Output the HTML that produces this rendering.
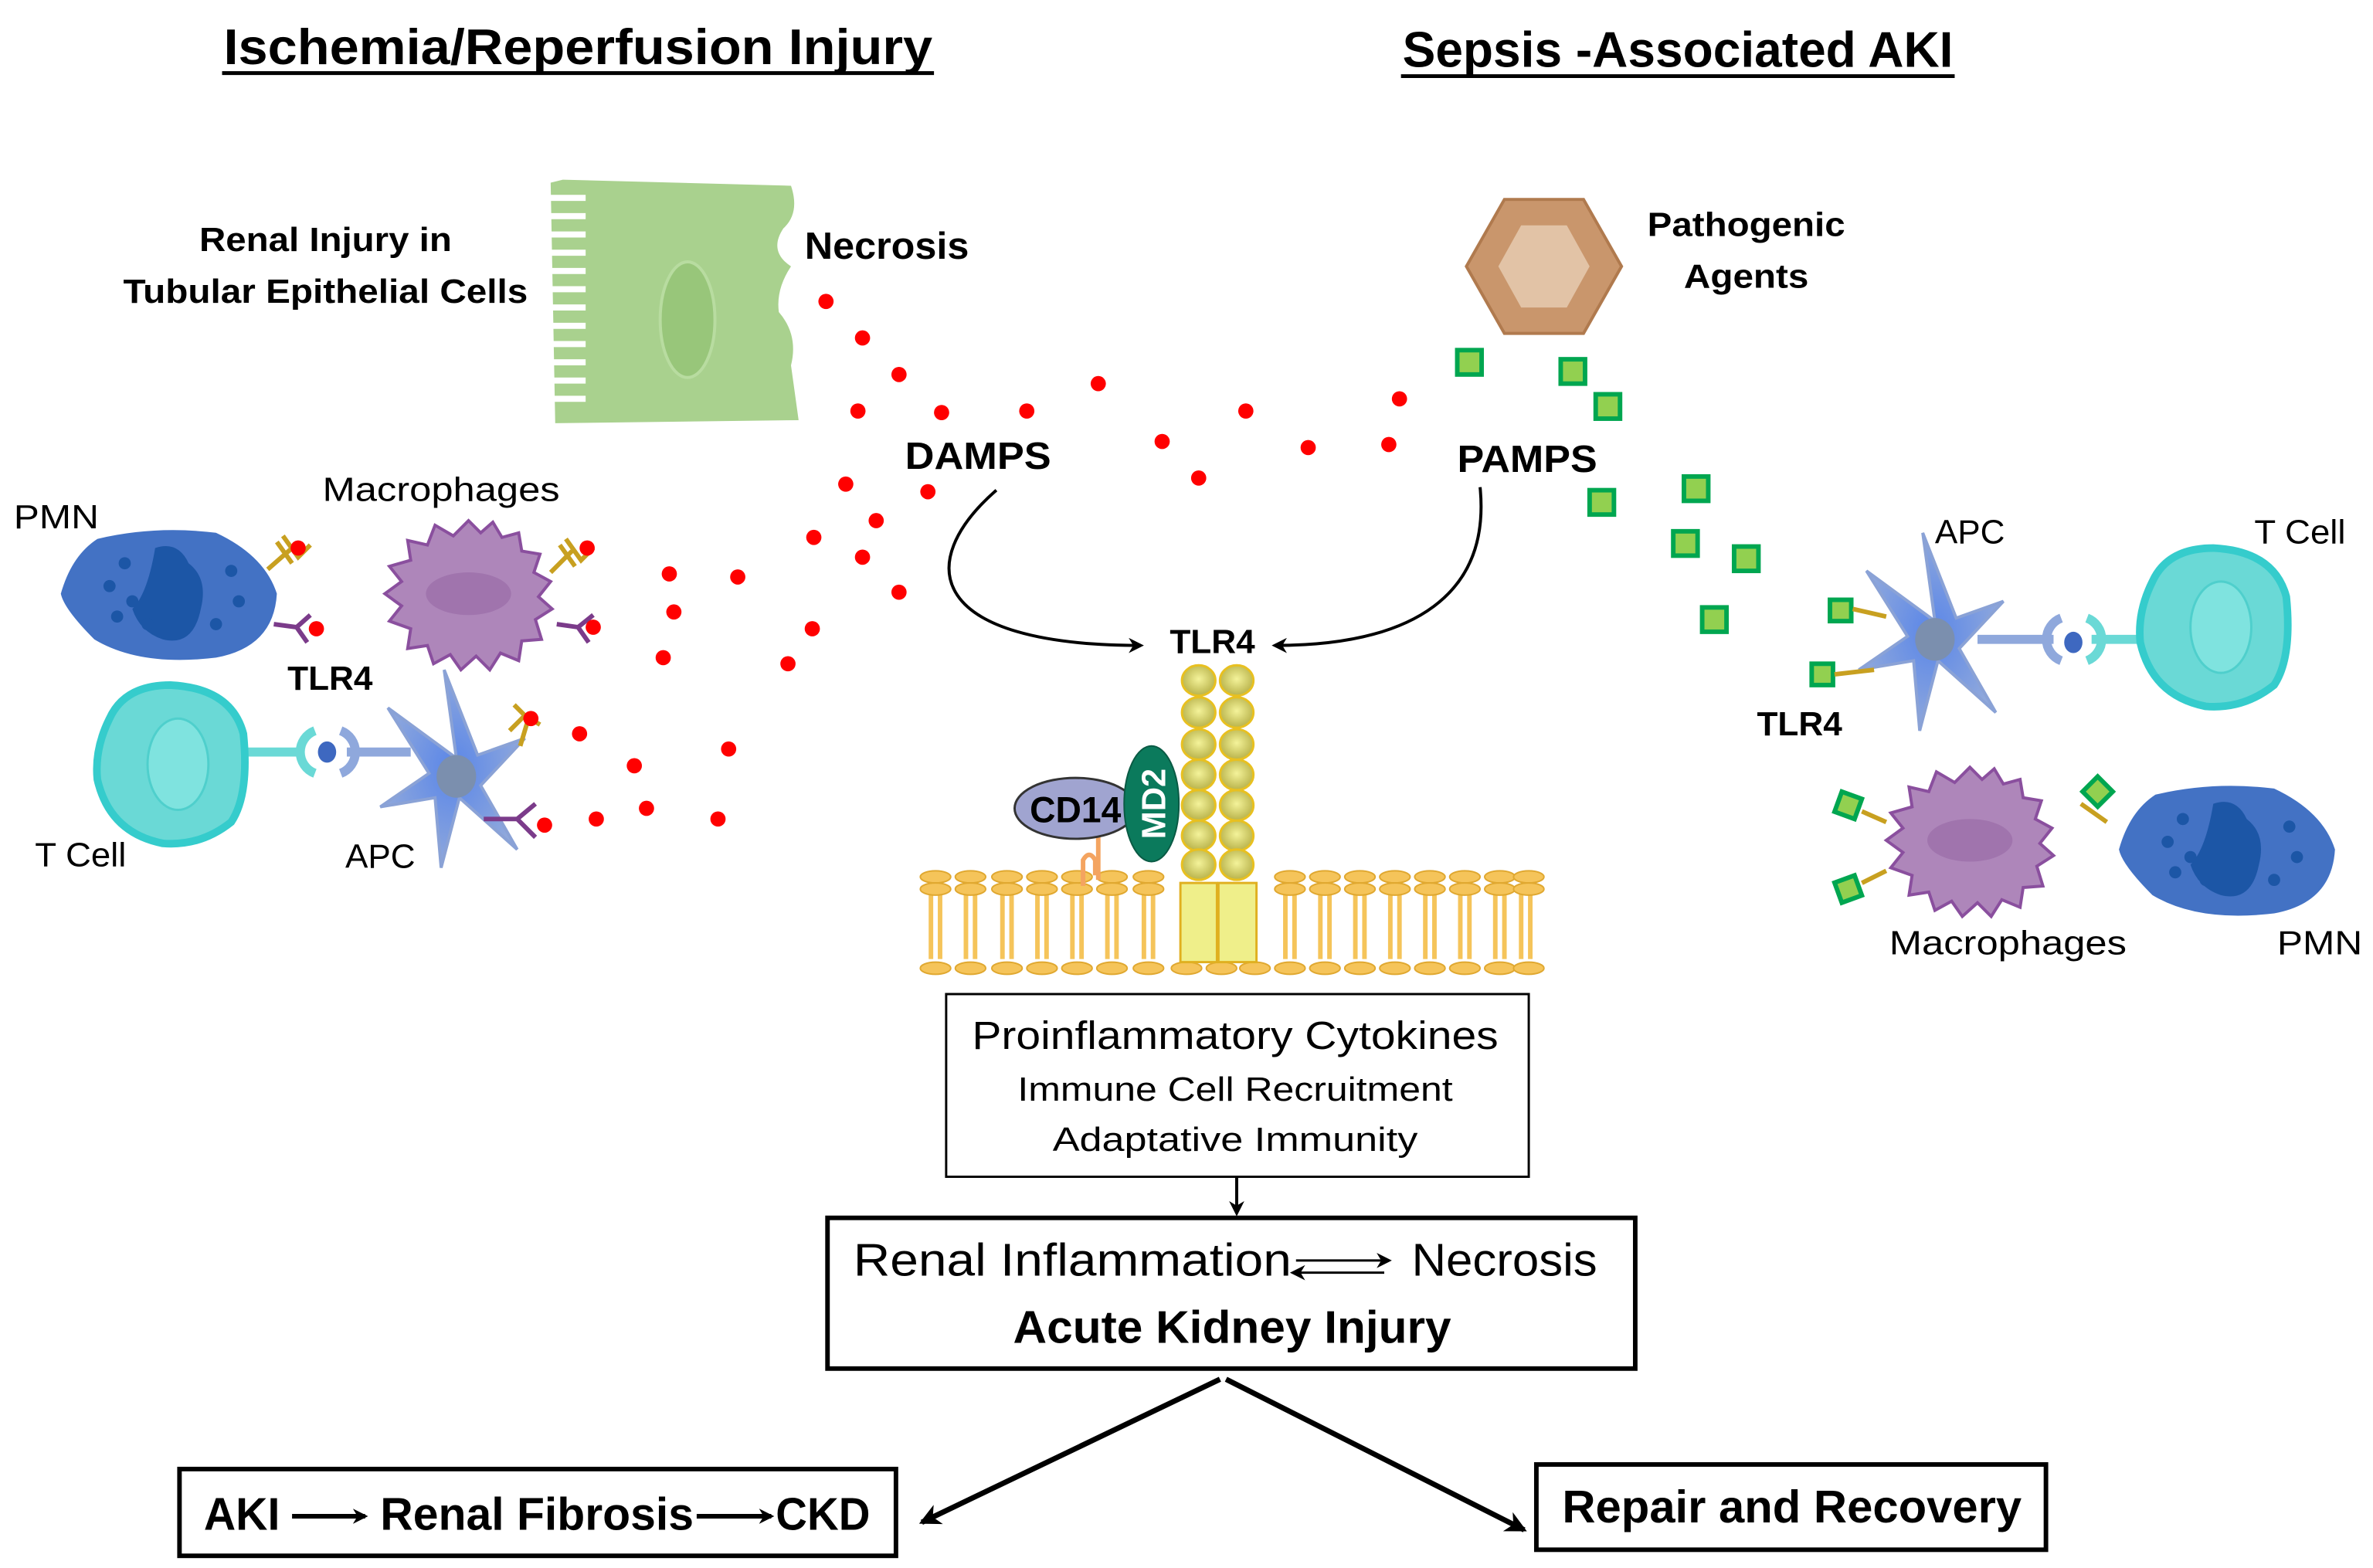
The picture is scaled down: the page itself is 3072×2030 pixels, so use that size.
<!DOCTYPE html>
<html><head><meta charset="utf-8"><style>
html,body{margin:0;padding:0;background:#fff;}
svg{display:block;}
text{font-family:"Liberation Sans",sans-serif;}
</style></head><body>
<svg width="3072" height="2030" viewBox="0 0 1560 1030" preserveAspectRatio="none" xmlns="http://www.w3.org/2000/svg">
<defs>
<marker id="ah" markerWidth="10" markerHeight="10" refX="8" refY="5" orient="auto" markerUnits="userSpaceOnUse"><path d="M0,0 L10,5 L0,10 L3,5 Z" fill="#000"/></marker>
<marker id="ah2" markerWidth="14" markerHeight="14" refX="12" refY="7" orient="auto" markerUnits="userSpaceOnUse"><path d="M0,0 L14,7 L0,14 L4,7 Z" fill="#000"/></marker>
<radialGradient id="bead" cx="50%" cy="45%" r="55%"><stop offset="0" stop-color="#f4f39a"/><stop offset="1" stop-color="#b8b24a"/></radialGradient>
<radialGradient id="apcg" cx="50%" cy="50%" r="50%"><stop offset="0" stop-color="#5a86e8"/><stop offset="1" stop-color="#8fa8dc"/></radialGradient>
<g id="tcell"><path d="M-40,-30 Q-30,-52 0,-52 Q40,-50 48,-20 Q52,20 40,38 Q20,54 -5,52 Q-40,45 -48,10 Q-50,-10 -40,-30Z" fill="#6ad9d6" stroke="#35cccc" stroke-width="5"/><ellipse cx="5" cy="0" rx="20" ry="30" fill="#7fe3df" stroke="#4fcfcc" stroke-width="1.5"/></g>
<g id="pmn"><path d="M-48,-36 Q-10,-45 30,-40 Q62,-25 70,0 Q68,35 30,42 Q-20,48 -50,30 Q-70,10 -72,0 Q-65,-25 -48,-36Z" fill="#4372c4"/><path d="M-10,-30 Q5,-35 12,-20 Q25,-10 20,10 Q15,35 -5,30 Q-20,25 -25,10 Q-15,0 -10,-30Z" fill="#1c56a6"/><g fill="#1c56a6"><circle cx="-40" cy="-5" r="4"/><circle cx="-30" cy="-20" r="4"/><circle cx="-25" cy="5" r="4"/><circle cx="-35" cy="15" r="4"/><circle cx="40" cy="-15" r="4"/><circle cx="45" cy="5" r="4"/><circle cx="-15" cy="20" r="4"/><circle cx="30" cy="20" r="4"/></g></g>
<g id="mac"><path d="M0,-48 L8,-40 L16,-47 L22,-37 L33,-40 L35,-28 L47,-26 L43,-14 L54,-8 L46,2 L55,10 L44,17 L48,30 L35,31 L33,44 L21,39 L14,50 L5,41 L-5,50 L-12,40 L-23,46 L-27,34 L-40,36 L-38,23 L-52,18 L-44,8 L-55,0 L-44,-8 L-52,-18 L-38,-22 L-40,-35 L-27,-32 L-22,-45 L-10,-38 Z" fill="#ae86ba" stroke="#8a4f9e" stroke-width="2"/><ellipse cx="0" cy="0" rx="28" ry="14" fill="#9a6ca8" opacity="0.7"/></g>
<g id="apc"><path d="M0,-12 L-8,-70 L14,-14 L45,-25 L16,6 L40,48 L2,14 L-10,60 L-14,14 L-50,20 L-18,-2 L-45,-45 Z" fill="url(#apcg)" stroke="#8aa2d6" stroke-width="2"/><ellipse cx="0" cy="0" rx="13" ry="14" fill="#7b8fae"/></g>
</defs>

<!-- titles -->
<text x="380" y="42" text-anchor="middle" font-size="33" font-weight="bold" textLength="466" lengthAdjust="spacingAndGlyphs">Ischemia/Reperfusion Injury</text>
<line x1="146" y1="48" x2="614" y2="48" stroke="#000" stroke-width="2.5"/>
<text x="1103" y="44" text-anchor="middle" font-size="33" font-weight="bold" textLength="362" lengthAdjust="spacingAndGlyphs">Sepsis -Associated AKI</text>
<line x1="921" y1="50" x2="1285" y2="50" stroke="#000" stroke-width="2.5"/>

<!-- epithelial cell -->
<path d="M370,118 L520,122 Q526,140 515,150 Q505,165 520,175 Q510,190 512,205 Q525,220 520,240 L525,276 L365,278 L362,120Z" fill="#a9d18e"/>
<g stroke="#fff" stroke-width="4">
<line x1="360" y1="130" x2="385" y2="130"/><line x1="360" y1="142" x2="385" y2="142"/><line x1="360" y1="154" x2="385" y2="154"/><line x1="360" y1="166" x2="385" y2="166"/><line x1="360" y1="178" x2="385" y2="178"/><line x1="360" y1="190" x2="385" y2="190"/><line x1="360" y1="202" x2="385" y2="202"/><line x1="360" y1="214" x2="385" y2="214"/><line x1="360" y1="226" x2="385" y2="226"/><line x1="360" y1="238" x2="385" y2="238"/><line x1="360" y1="250" x2="385" y2="250"/><line x1="360" y1="262" x2="385" y2="262"/></g>
<ellipse cx="452" cy="210" rx="18" ry="38" fill="#98c67a" stroke="#b8dca0" stroke-width="2"/>
<text x="214" y="165" text-anchor="middle" font-size="22" font-weight="bold" textLength="166" lengthAdjust="spacingAndGlyphs">Renal Injury in</text>
<text x="214" y="199" text-anchor="middle" font-size="22" font-weight="bold" textLength="266" lengthAdjust="spacingAndGlyphs">Tubular Epithelial Cells</text>
<text x="583" y="170" text-anchor="middle" font-size="25" font-weight="bold" textLength="108" lengthAdjust="spacingAndGlyphs">Necrosis</text>

<!-- hexagon -->
<polygon points="989,131 1041,131 1066,175 1041,219 989,219 964,175" fill="#c9966c" stroke="#b07a4e" stroke-width="2"/>
<polygon points="1000,148 1030,148 1045,175 1030,202 1000,202 985,175" fill="#e2c3a6"/>
<text x="1148" y="155" text-anchor="middle" font-size="22" font-weight="bold" textLength="130" lengthAdjust="spacingAndGlyphs">Pathogenic</text>
<text x="1148" y="189" text-anchor="middle" font-size="22" font-weight="bold" textLength="82" lengthAdjust="spacingAndGlyphs">Agents</text>

<!-- red dots -->
<g fill="#f00">
<circle cx="543" cy="198" r="5"/><circle cx="567" cy="222" r="5"/><circle cx="591" cy="246" r="5"/><circle cx="564" cy="270" r="5"/><circle cx="619" cy="271" r="5"/><circle cx="675" cy="270" r="5"/><circle cx="722" cy="252" r="5"/><circle cx="819" cy="270" r="5"/><circle cx="920" cy="262" r="5"/><circle cx="764" cy="290" r="5"/><circle cx="860" cy="294" r="5"/><circle cx="913" cy="292" r="5"/><circle cx="788" cy="314" r="5"/><circle cx="556" cy="318" r="5"/><circle cx="610" cy="323" r="5"/><circle cx="576" cy="342" r="5"/><circle cx="535" cy="353" r="5"/><circle cx="567" cy="366" r="5"/><circle cx="591" cy="389" r="5"/><circle cx="440" cy="377" r="5"/><circle cx="485" cy="379" r="5"/><circle cx="443" cy="402" r="5"/><circle cx="534" cy="413" r="5"/><circle cx="436" cy="432" r="5"/><circle cx="518" cy="436" r="5"/><circle cx="381" cy="482" r="5"/><circle cx="417" cy="503" r="5"/><circle cx="479" cy="492" r="5"/><circle cx="392" cy="538" r="5"/><circle cx="425" cy="531" r="5"/><circle cx="472" cy="538" r="5"/>
</g>
<!-- green squares -->
<g fill="#92d050" stroke="#00a650" stroke-width="3">
<rect x="958" y="230" width="16" height="16"/><rect x="1026" y="236" width="16" height="16"/><rect x="1049" y="259" width="16" height="16"/><rect x="1107" y="313" width="16" height="16"/><rect x="1045" y="322" width="16" height="16"/><rect x="1100" y="349" width="16" height="16"/><rect x="1140" y="359" width="16" height="16"/><rect x="1119" y="399" width="16" height="16"/>
</g>

<text x="643" y="308" text-anchor="middle" font-size="25" font-weight="bold" textLength="96" lengthAdjust="spacingAndGlyphs">DAMPS</text>
<text x="1004" y="310" text-anchor="middle" font-size="25" font-weight="bold" textLength="92" lengthAdjust="spacingAndGlyphs">PAMPS</text>
<path d="M655,322 C600,370 610,424 750,424" fill="none" stroke="#000" stroke-width="2" marker-end="url(#ah)"/>
<path d="M973,320 C980,390 930,424 838,424" fill="none" stroke="#000" stroke-width="2" marker-end="url(#ah)"/>
<text x="797" y="429" text-anchor="middle" font-size="22" font-weight="bold" textLength="56" lengthAdjust="spacingAndGlyphs">TLR4</text>

<!-- membrane -->
<g stroke="#f5c45a" stroke-width="3">
<path d="M612,585 V630 M618,585 V630 M635,585 V630 M641,585 V630 M659,585 V630 M665,585 V630 M682,585 V630 M688,585 V630 M705,585 V630 M711,585 V630 M728,585 V630 M734,585 V630 M752,585 V630 M758,585 V630 M845,585 V630 M851,585 V630 M868,585 V630 M874,585 V630 M891,585 V630 M897,585 V630 M914,585 V630 M920,585 V630 M937,585 V630 M943,585 V630 M960,585 V630 M966,585 V630 M983,585 V630 M989,585 V630 M1000,585 V630 M1006,585 V630"/>
</g>
<g fill="#f5c45a" stroke="#e0a830" stroke-width="1">
<ellipse cx="615" cy="576" rx="10" ry="4"/><ellipse cx="638" cy="576" rx="10" ry="4"/><ellipse cx="662" cy="576" rx="10" ry="4"/><ellipse cx="685" cy="576" rx="10" ry="4"/><ellipse cx="708" cy="576" rx="10" ry="4"/><ellipse cx="731" cy="576" rx="10" ry="4"/><ellipse cx="755" cy="576" rx="10" ry="4"/><ellipse cx="848" cy="576" rx="10" ry="4"/><ellipse cx="871" cy="576" rx="10" ry="4"/><ellipse cx="894" cy="576" rx="10" ry="4"/><ellipse cx="917" cy="576" rx="10" ry="4"/><ellipse cx="940" cy="576" rx="10" ry="4"/><ellipse cx="963" cy="576" rx="10" ry="4"/><ellipse cx="986" cy="576" rx="10" ry="4"/><ellipse cx="1005" cy="576" rx="10" ry="4"/>
<ellipse cx="615" cy="584" rx="10" ry="4"/><ellipse cx="638" cy="584" rx="10" ry="4"/><ellipse cx="662" cy="584" rx="10" ry="4"/><ellipse cx="685" cy="584" rx="10" ry="4"/><ellipse cx="708" cy="584" rx="10" ry="4"/><ellipse cx="731" cy="584" rx="10" ry="4"/><ellipse cx="755" cy="584" rx="10" ry="4"/><ellipse cx="848" cy="584" rx="10" ry="4"/><ellipse cx="871" cy="584" rx="10" ry="4"/><ellipse cx="894" cy="584" rx="10" ry="4"/><ellipse cx="917" cy="584" rx="10" ry="4"/><ellipse cx="940" cy="584" rx="10" ry="4"/><ellipse cx="963" cy="584" rx="10" ry="4"/><ellipse cx="986" cy="584" rx="10" ry="4"/><ellipse cx="1005" cy="584" rx="10" ry="4"/>
<ellipse cx="615" cy="636" rx="10" ry="4"/><ellipse cx="638" cy="636" rx="10" ry="4"/><ellipse cx="662" cy="636" rx="10" ry="4"/><ellipse cx="685" cy="636" rx="10" ry="4"/><ellipse cx="708" cy="636" rx="10" ry="4"/><ellipse cx="731" cy="636" rx="10" ry="4"/><ellipse cx="755" cy="636" rx="10" ry="4"/><ellipse cx="780" cy="636" rx="10" ry="4"/><ellipse cx="803" cy="636" rx="10" ry="4"/><ellipse cx="825" cy="636" rx="10" ry="4"/><ellipse cx="848" cy="636" rx="10" ry="4"/><ellipse cx="871" cy="636" rx="10" ry="4"/><ellipse cx="894" cy="636" rx="10" ry="4"/><ellipse cx="917" cy="636" rx="10" ry="4"/><ellipse cx="940" cy="636" rx="10" ry="4"/><ellipse cx="963" cy="636" rx="10" ry="4"/><ellipse cx="986" cy="636" rx="10" ry="4"/><ellipse cx="1005" cy="636" rx="10" ry="4"/>
</g>
<!-- TLR4 receptor -->
<rect x="776" y="580" width="24" height="52" fill="#efef8a" stroke="#e0b020" stroke-width="1.5"/>
<rect x="801" y="580" width="25" height="52" fill="#efef8a" stroke="#e0b020" stroke-width="1.5"/>
<g fill="url(#bead)" stroke="#e8c020" stroke-width="1.5">
<ellipse cx="788" cy="447" rx="11" ry="10"/><ellipse cx="813" cy="447" rx="11" ry="10"/>
<ellipse cx="788" cy="468" rx="11" ry="10"/><ellipse cx="813" cy="468" rx="11" ry="10"/>
<ellipse cx="788" cy="489" rx="11" ry="10"/><ellipse cx="813" cy="489" rx="11" ry="10"/>
<ellipse cx="788" cy="509" rx="11" ry="10"/><ellipse cx="813" cy="509" rx="11" ry="10"/>
<ellipse cx="788" cy="529" rx="11" ry="10"/><ellipse cx="813" cy="529" rx="11" ry="10"/>
<ellipse cx="788" cy="549" rx="11" ry="10"/><ellipse cx="813" cy="549" rx="11" ry="10"/>
<ellipse cx="788" cy="568" rx="11" ry="10"/><ellipse cx="813" cy="568" rx="11" ry="10"/>
</g>
<path d="M712,582 V565 Q716,558 720,565 V575 M722,578 V550" fill="none" stroke="#f4a460" stroke-width="3"/>
<ellipse cx="707" cy="531" rx="40" ry="20" fill="#a0a4d0" stroke="#333" stroke-width="1.5"/>
<text x="707" y="540" text-anchor="middle" font-size="24" font-weight="bold" textLength="60" lengthAdjust="spacingAndGlyphs">CD14</text>
<ellipse cx="757" cy="528" rx="18" ry="38" fill="#0b7a5c" stroke="#0a5a44" stroke-width="1"/>
<text x="0" y="0" transform="translate(766,528) rotate(-90)" text-anchor="middle" font-size="22" font-weight="bold" fill="#fff">MD2</text>

<!-- boxes -->
<rect x="622" y="653" width="383" height="120" fill="#fff" stroke="#000" stroke-width="1.5"/>
<text x="812" y="689" text-anchor="middle" font-size="26" textLength="346" lengthAdjust="spacingAndGlyphs">Proinflammatory Cytokines</text>
<text x="812" y="723" text-anchor="middle" font-size="22" textLength="286" lengthAdjust="spacingAndGlyphs">Immune Cell Recruitment</text>
<text x="812" y="756" text-anchor="middle" font-size="22" textLength="240" lengthAdjust="spacingAndGlyphs">Adaptative Immunity</text>
<line x1="813" y1="773" x2="813" y2="797" stroke="#000" stroke-width="2" marker-end="url(#ah)"/>

<rect x="544" y="800" width="531" height="99" fill="#fff" stroke="#000" stroke-width="3"/>
<text x="561" y="838" font-size="30" textLength="288" lengthAdjust="spacingAndGlyphs">Renal Inflammation</text>
<line x1="852" y1="828" x2="913" y2="828" stroke="#000" stroke-width="1.5" marker-end="url(#ah)"/>
<line x1="910" y1="836" x2="850" y2="836" stroke="#000" stroke-width="1.5" marker-end="url(#ah)"/>
<text x="928" y="838" font-size="30" textLength="122" lengthAdjust="spacingAndGlyphs">Necrosis</text>
<text x="810" y="882" text-anchor="middle" font-size="30" font-weight="bold" textLength="288" lengthAdjust="spacingAndGlyphs">Acute Kidney Injury</text>

<line x1="802" y1="906" x2="606" y2="1000" stroke="#000" stroke-width="3.5" marker-end="url(#ah2)"/>
<line x1="806" y1="906" x2="1002" y2="1005" stroke="#000" stroke-width="3.5" marker-end="url(#ah2)"/>

<rect x="118" y="965" width="471" height="57" fill="#fff" stroke="#000" stroke-width="3"/>
<text x="134" y="1005" font-size="30" font-weight="bold" textLength="50" lengthAdjust="spacingAndGlyphs">AKI</text>
<line x1="192" y1="996" x2="240" y2="996" stroke="#000" stroke-width="3" marker-end="url(#ah)"/>
<text x="250" y="1005" font-size="30" font-weight="bold" textLength="206" lengthAdjust="spacingAndGlyphs">Renal Fibrosis</text>
<line x1="458" y1="996" x2="507" y2="996" stroke="#000" stroke-width="3" marker-end="url(#ah)"/>
<text x="510" y="1005" font-size="30" font-weight="bold" textLength="62" lengthAdjust="spacingAndGlyphs">CKD</text>

<rect x="1010" y="962" width="335" height="56" fill="#fff" stroke="#000" stroke-width="3"/>
<text x="1178" y="1000" text-anchor="middle" font-size="30" font-weight="bold" textLength="302" lengthAdjust="spacingAndGlyphs">Repair and Recovery</text>

<!-- left cells -->
<use href="#pmn" x="112" y="390"/>
<use href="#mac" x="308" y="390"/>
<line x1="160" y1="494" x2="198" y2="494" stroke="#6ad9d6" stroke-width="6"/>
<line x1="228" y1="494" x2="270" y2="494" stroke="#8fa8dc" stroke-width="6"/>
<use href="#apc" x="300" y="510"/>
<path d="M207,480 A15,15 0 0 0 207,508" fill="none" stroke="#6ad9d6" stroke-width="6"/>
<path d="M224,480 A15,15 0 0 1 224,508" fill="none" stroke="#8fa8dc" stroke-width="6"/>
<ellipse cx="215" cy="494" rx="6" ry="7" fill="#3e68c0"/>
<use href="#tcell" x="112" y="502"/>
<!-- receptors left -->
<g fill="none" stroke-width="3">
<path d="M176,374 L192,360 M186,352 L196,366 L204,358 M182,356 L192,370" stroke="#c8a020"/>
<path d="M180,410 L195,412 M195,412 L204,404 M195,412 L202,422" stroke="#7b3b8a"/>
<path d="M362,376 L376,362 M372,354 L382,368 L390,360 M368,358 L378,372" stroke="#c8a020"/>
<path d="M366,410 L380,412 M380,412 L390,404 M380,412 L387,422" stroke="#7b3b8a"/>
<path d="M335,480 L345,470 L338,463 M345,470 L355,476 M342,490 L348,470" stroke="#c8a020"/>
<path d="M318,538 L340,538 M340,538 L352,528 M340,538 L352,550" stroke="#7b3b8a"/>
</g>
<g fill="#f00"><circle cx="196" cy="360" r="5"/><circle cx="208" cy="413" r="5"/><circle cx="386" cy="360" r="5"/><circle cx="390" cy="412" r="5"/><circle cx="349" cy="472" r="5"/><circle cx="358" cy="542" r="5"/></g>
<text x="37" y="347" text-anchor="middle" font-size="22" textLength="56" lengthAdjust="spacingAndGlyphs">PMN</text>
<text x="290" y="329" text-anchor="middle" font-size="22" textLength="156" lengthAdjust="spacingAndGlyphs">Macrophages</text>
<text x="217" y="453" text-anchor="middle" font-size="22" font-weight="bold" textLength="56" lengthAdjust="spacingAndGlyphs">TLR4</text>
<text x="53" y="569" text-anchor="middle" font-size="22" textLength="60" lengthAdjust="spacingAndGlyphs">T Cell</text>
<text x="250" y="570" text-anchor="middle" font-size="22" textLength="46" lengthAdjust="spacingAndGlyphs">APC</text>

<!-- right cells -->
<line x1="1300" y1="420" x2="1350" y2="420" stroke="#8fa8dc" stroke-width="6"/>
<line x1="1375" y1="420" x2="1405" y2="420" stroke="#6ad9d6" stroke-width="6"/>
<use href="#apc" x="1272" y="420"/>
<path d="M1355,406 A15,15 0 0 0 1355,434" fill="none" stroke="#8fa8dc" stroke-width="6"/>
<path d="M1372,406 A15,15 0 0 1 1372,434" fill="none" stroke="#6ad9d6" stroke-width="6"/>
<ellipse cx="1363" cy="422" rx="6" ry="7" fill="#3e68c0"/>
<use href="#tcell" x="1455" y="412"/>
<use href="#mac" x="1295" y="552"/>
<use href="#pmn" x="1465" y="558"/>
<g fill="#92d050" stroke="#00a650" stroke-width="3">
<rect x="1203" y="394" width="14" height="14"/><rect x="1191" y="436" width="14" height="14"/>
<rect x="1208" y="522" width="14" height="14" transform="rotate(20 1215 529)"/><rect x="1208" y="577" width="14" height="14" transform="rotate(-20 1215 584)"/><rect x="1372" y="513" width="14" height="14" transform="rotate(45 1379 520)"/>
</g>
<g stroke="#c8a020" stroke-width="3"><line x1="1218" y1="400" x2="1240" y2="405"/><line x1="1206" y1="443" x2="1232" y2="440"/><line x1="1224" y1="533" x2="1240" y2="540"/><line x1="1224" y1="580" x2="1240" y2="572"/><line x1="1368" y1="528" x2="1385" y2="540"/></g>
<text x="1295" y="357" text-anchor="middle" font-size="22" textLength="46" lengthAdjust="spacingAndGlyphs">APC</text>
<text x="1512" y="357" text-anchor="middle" font-size="22" textLength="60" lengthAdjust="spacingAndGlyphs">T Cell</text>
<text x="1183" y="483" text-anchor="middle" font-size="22" font-weight="bold" textLength="56" lengthAdjust="spacingAndGlyphs">TLR4</text>
<text x="1320" y="627" text-anchor="middle" font-size="22" textLength="156" lengthAdjust="spacingAndGlyphs">Macrophages</text>
<text x="1525" y="627" text-anchor="middle" font-size="22" textLength="56" lengthAdjust="spacingAndGlyphs">PMN</text>
</svg>
</body></html>
